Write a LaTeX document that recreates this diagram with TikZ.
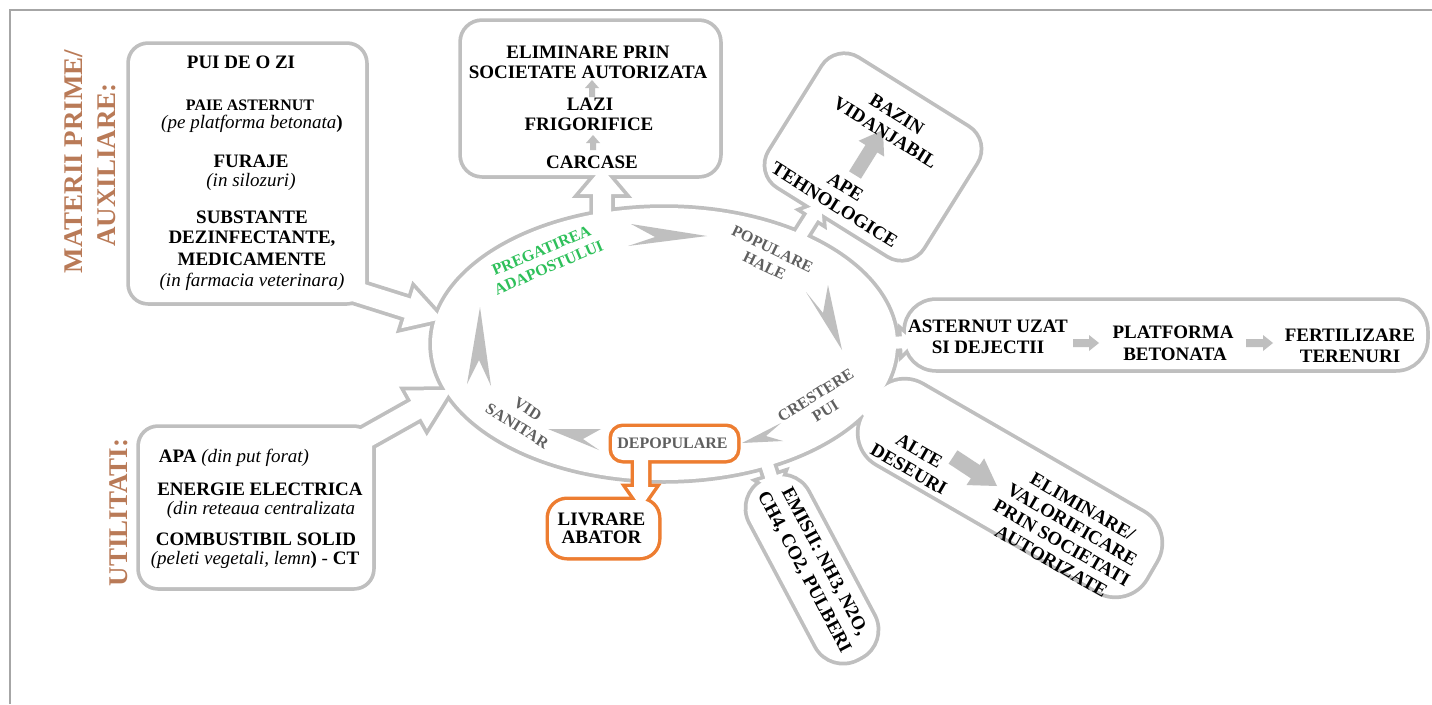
\documentclass[tikz,border=0pt]{standalone}
\usepackage{fontspec}
\setmainfont{Liberation Serif}
\usetikzlibrary{calc}
\definecolor{gc}{HTML}{BFBFBF}
\definecolor{oc}{HTML}{ED7D31}
\definecolor{tg}{HTML}{5F5F5F}
\definecolor{gr}{HTML}{2EC05A}
\definecolor{br}{HTML}{B97A57}
\definecolor{fr}{HTML}{A6A6A6}
% block arrow: #1 options, #2 start, #3 tip, #4 shaft half width, #5 head half width, #6 head length
\newcommand\blkarrow[6]{%
  \coordinate (ba-hb) at ($(#3)!#6!(#2)$);
  \path[#1] ($(#2)!#4!90:(#3)$) -- ($(ba-hb)!#4!90:(#3)$) -- ($(ba-hb)!#5!90:(#3)$) -- (#3)
     -- ($(ba-hb)!#5!-90:(#3)$) -- ($(ba-hb)!#4!-90:(#3)$) -- ($(#2)!#4!-90:(#3)$) -- cycle;
}
\newcommand\grayshapes{%
  \path[shp] (664,344) ellipse [x radius=232pt, y radius=136pt];
  \path[shp, rounded corners=18pt] (130,45) rectangle (365,302);
  \path[shp, rounded corners=18pt] (140,428) rectangle (372,587);
  \path[shp, rounded corners=20pt] (462,22) rectangle (719,175);
  \path[shp, rounded corners=25pt, rotate around={-32:(873,157)}] (783,82) rectangle (963,232);
  \path[shp, rounded corners=30pt] (906,301) rectangle (1426,369);
  \path[shp, rounded corners=35pt, rotate around={-30:(1010,488)}] (847.5,443) rectangle (1172.5,533);
  \path[shp, rounded corners=30pt, rotate around={-62:(812,569)}] (712,537) rectangle (912,601);
  \blkarrow{shp}{gTopA}{gTopB}{9pt}{22pt}{26pt}
  \blkarrow{shp}{gMatA}{gMatB}{10pt}{21pt}{36pt}
  \blkarrow{shp}{gUtiA}{gUtiB}{10pt}{22pt}{40pt}
  \blkarrow{shp}{gBazA}{gBazB}{6pt}{12pt}{16pt}
  \blkarrow{shp}{gAstA}{gAstB}{6pt}{11pt}{12pt}
  \blkarrow{shp}{gAltA}{gAltB}{6pt}{12pt}{14pt}
  \blkarrow{shp}{gEmiA}{gEmiB}{6pt}{13pt}{16pt}
}
\newcommand\orangeshapes{%
  \path[shp, rounded corners=11pt] (612,427) rectangle (737,460);
  \path[shp, rounded corners=18pt] (549,500) rectangle (658,557);
  \blkarrow{shp}{oA}{oB}{7pt}{14pt}{20pt}
}
\begin{document}
\begin{tikzpicture}[x=1pt,y=-1pt,
  bt/.style={font=\fontsize{19}{21}\selectfont\bfseries, inner sep=0pt, anchor=base},
  it/.style={font=\fontsize{19}{21}\selectfont\itshape, inner sep=0pt, anchor=base},
  rt/.style={font=\fontsize{19}{21}\selectfont\bfseries, inner sep=0pt, align=center},
  cyc/.style={font=\fontsize{16}{18.5}\selectfont\bfseries, text=tg, inner sep=0pt, align=center},
  side/.style={font=\fontsize{27}{30}\selectfont\bfseries, text=br, rotate=90, anchor=base, inner sep=0pt},
  chev/.style={fill=gc},
  small/.style={fill=gc}]
\useasboundingbox (0,0) rectangle (1432,704);
\draw[fr, line width=2pt] (10,704) -- (10,10) -- (1432,10);
% connector end points
\coordinate (gTopA) at (602,225);   \coordinate (gTopB) at (602,168);
\coordinate (gMatA) at (350,290);   \coordinate (gMatB) at (442,319);
\coordinate (gUtiA) at (362,440);   \coordinate (gUtiB) at (451,390);
\coordinate (gBazA) at (797,241); \coordinate (gBazB) at (821,203);
\coordinate (gAstA) at (884,343);   \coordinate (gAstB) at (914,342);
\coordinate (gAltA) at (858,400);   \coordinate (gAltB) at (880,425);
\coordinate (gEmiA) at (764,455);   \coordinate (gEmiB) at (776,492);
\coordinate (oA) at (641,450);      \coordinate (oB) at (641,507);
% merged outlines: gray
\tikzset{shp/.style={draw=gc, line width=7.5pt}}
\grayshapes
\tikzset{shp/.style={fill=white}}
\grayshapes
% merged outlines: orange
\tikzset{shp/.style={draw=oc, line width=7pt}}
\orangeshapes
\tikzset{shp/.style={fill=white}}
\orangeshapes
% chevrons of the cycle
\fill[chev] (707,236) -- (631,224) -- (655,237) -- (628,246) -- cycle;
\fill[chev] (842,350) -- (806,292) -- (823,313) -- (828,285) -- cycle;
\fill[chev] (742,443) -- (781,423) -- (766,436) -- (783,441) -- cycle;
\fill[chev] (548,429) -- (601,429) -- (583,439) -- (599,450) -- cycle;
\fill[chev] (480,307) -- (467,384) -- (479,360) -- (491,386) -- cycle;
% small arrows inside boxes
\coordinate (s1a) at (592,97);   \coordinate (s1b) at (592,80);
\coordinate (s2a) at (593,150);  \coordinate (s2b) at (593,135);
\coordinate (s3a) at (1073,343); \coordinate (s3b) at (1099,343);
\coordinate (s4a) at (1246,343); \coordinate (s4b) at (1273,343);
\coordinate (s5a) at (855,175);  \coordinate (s5b) at (883,130);
\coordinate (s6a) at (953,457);  \coordinate (s6b) at (997,486);
\blkarrow{small}{s1a}{s1b}{3pt}{7pt}{8pt}
\blkarrow{small}{s2a}{s2b}{3pt}{7pt}{8pt}
\blkarrow{small}{s3a}{s3b}{4pt}{8pt}{10pt}
\blkarrow{small}{s4a}{s4b}{4pt}{8pt}{10pt}
\blkarrow{small}{s5a}{s5b}{7pt}{15pt}{22pt}
\blkarrow{small}{s6a}{s6b}{8pt}{16pt}{26pt}
% side labels
\node[side] (m1) at (82,161.5) {MATERII PRIME/};
\node[side] (m2) at (115,165) {AUXILIARE:};
\node[side] (m3) at (127,512.5) {UTILITATI:};
% materii box
\node[bt] (t1) at (241,68.5) {PUI DE O ZI};
\node[bt, font=\fontsize{16}{18}\selectfont\bfseries] (t2) at (250,110) {PAIE ASTERNUT};
\node[it] (t3) at (252,128.5) {(pe platforma betonata{\upshape\bfseries )}};
\node[bt] (t4) at (251,167) {FURAJE};
\node[it] (t5) at (251,186.5) {(in silozuri)};
\node[bt] (t6) at (252,223) {SUBSTANTE};
\node[bt] (t7) at (252,243) {DEZINFECTANTE,};
\node[bt] (t8) at (252,265) {MEDICAMENTE};
\node[it] (t9) at (252,286) {(in farmacia veterinara)};
% utilitati box
\node[bt] (u1) at (234,462) {APA {\normalfont\itshape (din put forat)}};
\node[bt] (u2) at (260,495) {ENERGIE ELECTRICA};
\node[it] (u3) at (261,514) {(din reteaua centralizata};
\node[bt] (u4) at (256,545) {COMBUSTIBIL SOLID};
\node[it] (u5) at (255,564) {(peleti vegetali, lemn{\upshape\bfseries )} {\upshape -} {\upshape\bfseries CT}};
% top box
\node[bt] (e1) at (588,58) {ELIMINARE PRIN};
\node[bt] (e2) at (588,78) {SOCIETATE AUTORIZATA};
\node[bt] (e3) at (590,110) {LAZI};
\node[bt] (e4) at (589,130.5) {FRIGORIFICE};
\node[bt] (e5) at (592,168) {CARCASE};
% asternut box
\node[bt] (a1) at (988,332) {ASTERNUT UZAT};
\node[bt] (a2) at (988,353) {SI DEJECTII};
\node[bt] (a3) at (1173,338) {PLATFORMA};
\node[bt] (a4) at (1175,360) {BETONATA};
\node[bt] (a5) at (1350,341) {FERTILIZARE};
\node[bt] (a6) at (1350,362) {TERENURI};
% rotated boxes
\node[rt, font=\fontsize{19}{22}\selectfont\bfseries, rotate=-32] (bz1) at (891,123.5) {BAZIN\\VIDANJABIL};
\node[rt, font=\fontsize{19}{21}\selectfont\bfseries, rotate=-32] (bz2) at (840,196) {APE\\TEHNOLOGICE};
\node[rt, rotate=-30] (ad1) at (914,460) {ALTE\\DESEURI};
\node[rt, rotate=-30] (ad2) at (1067,534) {ELIMINARE/\\VALORIFICARE\\PRIN SOCIETATI\\AUTORIZATE};
\node[rt, font=\fontsize{19}{23}\selectfont\bfseries, rotate=-62] (em) at (814,567) {EMISII: NH3, N2O,\\CH4, CO2, PULBERI};
% livrare
\node[bt] (lv1) at (601.5,525) {LIVRARE};
\node[bt] (lv2) at (601.5,543.5) {ABATOR};
% cycle labels
\node[cyc, text=gr, rotate=23] (p1) at (545,259) {PREGATIREA\\ADAPOSTULUI};
\node[cyc, rotate=-26] (p2) at (768.5,257.5) {POPULARE\\HALE};
\node[cyc, rotate=32] (p3) at (820.5,403) {CRESTERE\\PUI};
\node[cyc, font=\fontsize{16}{20}\selectfont\bfseries, rotate=-32] (p4) at (522.5,417.5) {VID\\SANITAR};
\node[cyc, anchor=base] (p5) at (672.5,448) {DEPOPULARE};
\end{tikzpicture}
\end{document}
